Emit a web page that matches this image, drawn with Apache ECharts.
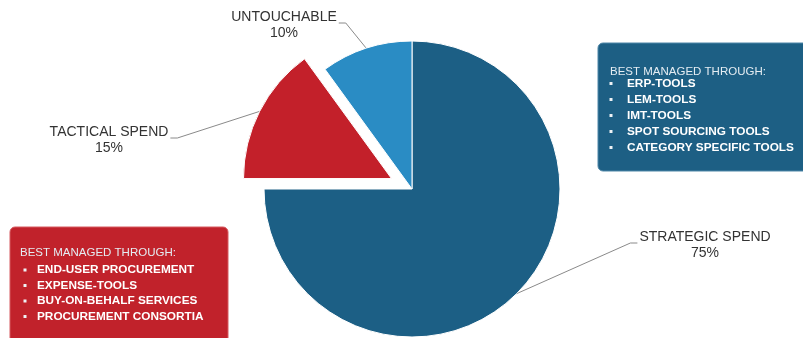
<!DOCTYPE html>
<html>
<head>
<meta charset="utf-8">
<script src="https://cdn.jsdelivr.net/npm/echarts@6/dist/echarts.min.js"></script>
<style>
html,body{margin:0;padding:0;background:#fff;overflow:hidden;}
#chart{width:803px;height:338px;}
</style>
</head>
<body>
<div id="chart"></div>
<script>
// ---- data ----
const categories = ['STRATEGIC SPEND', 'TACTICAL SPEND', 'UNTOUCHABLE'];
const values = [75, 15, 10];
const explodedIndex = 1;
const strategicTitle = 'BEST MANAGED THROUGH:';
const strategicTools = ['ERP-TOOLS', 'LEM-TOOLS', 'IMT-TOOLS', 'SPOT SOURCING TOOLS', 'CATEGORY SPECIFIC TOOLS'];
const tacticalTitle = 'BEST MANAGED THROUGH:';
const tacticalTools = ['END-USER PROCUREMENT', 'EXPENSE-TOOLS', 'BUY-ON-BEHALF SERVICES', 'PROCUREMENT CONSORTIA'];

// ---- styling / layout ----
const sliceColors = ['#1c5f85', '#c3202a', '#2a8cc4'];
const pieCenter = [412, 189];
const pieRadius = 148;
const explodeDist = 23;
const labelSpots = [
  { x: 705, y: 245, side: 'right' },
  { x: 109, y: 140, side: 'left' },
  { x: 284, y: 25, side: 'left' }
];

// offset centre for the exploded slice, along its bisector (clockwise from 12 o'clock)
const total = values.reduce(function (a, b) { return a + b; }, 0);
let cum = 0;
for (let i = 0; i < explodedIndex; i++) cum += values[i];
const midDeg = 90 - 360 * (cum + values[explodedIndex] / 2) / total;
const midRad = midDeg * Math.PI / 180;
const explodedCenter = [pieCenter[0] + explodeDist * Math.cos(midRad), pieCenter[1] - explodeDist * Math.sin(midRad)];

const chart = echarts.init(document.getElementById('chart'), null, { renderer: 'canvas' });

function boxElements(x, y, w, h, fill, stroke, title, items, headerY, itemY0, step, bulletX, textX) {
  const els = [{
    type: 'rect', z: 1,
    shape: { x: x, y: y, width: w, height: h, r: 5 },
    style: { fill: fill, stroke: stroke, lineWidth: 1 }
  }, {
    type: 'text', z: 2, x: textX - 17, y: headerY,
    style: { text: title, fill: '#e4ecf2', font: '11.5px "Liberation Sans", Arial, sans-serif', verticalAlign: 'middle' }
  }];
  items.forEach(function (t, i) {
    const yy = itemY0 + i * step;
    els.push({
      type: 'rect', z: 2,
      shape: { x: bulletX - 1.5, y: yy - 1.5, width: 3, height: 3 },
      style: { fill: '#eef2f5' }
    });
    els.push({
      type: 'text', z: 2, x: textX, y: yy,
      style: { text: t, fill: '#ffffff', font: 'bold 11.8px "Liberation Sans", Arial, sans-serif', verticalAlign: 'middle' }
    });
  });
  return els;
}

const graphics = []
  .concat(boxElements(598, 43, 220, 128, '#1d5f84', '#4f87a8', strategicTitle, strategicTools, 72, 83.5, 16, 611, 627))
  .concat(boxElements(10, 227, 218, 130, '#c1222b', '#d65a60', tacticalTitle, tacticalTools, 253, 270, 15.5, 25, 37));

function labelLayout(p) {
  const s = labelSpots[p.dataIndex];
  const w = p.labelRect.width;
  const ly = s.y - 2;
  let endX, elbowX;
  if (s.side === 'right') { endX = s.x - w / 2 - 2; elbowX = endX - 7; }
  else { endX = s.x + w / 2 + 2; elbowX = endX + 7; }
  const p0 = p.labelLinePoints ? p.labelLinePoints[0] : [elbowX, ly];
  return {
    x: s.x, y: s.y, align: 'center', verticalAlign: 'middle',
    labelLinePoints: [p0, [elbowX, ly], [endX, ly]]
  };
}

function makeSeries(center, showExploded) {
  return {
    type: 'pie',
    center: center,
    radius: pieRadius,
    startAngle: 90,
    clockwise: true,
    avoidLabelOverlap: false,
    silent: true,
    itemStyle: { borderColor: '#ffffff', borderWidth: 1 },
    label: {
      show: true,
      position: 'outside',
      formatter: '{b}\n{c}%',
      color: '#333333',
      fontFamily: '"Liberation Sans", Arial, sans-serif',
      fontSize: 14,
      lineHeight: 16,
      align: 'center'
    },
    labelLine: { show: true, lineStyle: { color: '#8a8a8a', width: 1 } },
    emphasis: { disabled: true },
    labelLayout: labelLayout,
    data: categories.map(function (name, i) {
      const visible = (i === explodedIndex) === showExploded;
      return {
        name: name,
        value: values[i],
        itemStyle: visible ? { color: sliceColors[i] } : { color: 'rgba(0,0,0,0)', borderWidth: 0 },
        label: { show: visible },
        labelLine: { show: visible }
      };
    })
  };
}

chart.setOption({
  animation: false,
  backgroundColor: '#ffffff',
  graphic: { elements: graphics },
  series: [makeSeries(pieCenter, false), makeSeries(explodedCenter, true)]
});
</script>
</body>
</html>
